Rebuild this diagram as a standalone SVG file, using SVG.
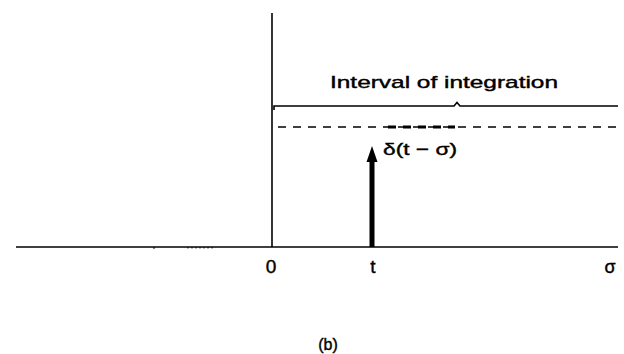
<svg xmlns="http://www.w3.org/2000/svg" width="624" height="354" viewBox="0 0 624 354">
<style>
.ax{stroke:#000;stroke-width:1.6;fill:none}
.lbl{font-family:"Liberation Sans",Arial,sans-serif;fill:#000;stroke:#000;stroke-width:0.4}
</style>
<rect width="624" height="354" fill="#fff"/>
<g id="connectors">
<line class="ax" x1="16" y1="247" x2="618" y2="247"/>
<line class="ax" x1="272" y1="13" x2="272" y2="247"/>
<path class="ax" d="M274,110 V106 H454 L457,102.5 L460,106 H618" stroke-width="1.4"/>
<line x1="278" y1="127" x2="620" y2="127" stroke="#000" stroke-width="1.6" stroke-dasharray="8,7"/>
<line x1="388" y1="127" x2="455" y2="127" stroke="#000" stroke-width="3" stroke-dasharray="8,7"/>
<line x1="154" y1="247" x2="154" y2="249" stroke="#000" stroke-width="1"/>
<path d="M188,247 v1.5 M192,247 v1.5 M196,247 v1.5 M200,247 v1.5 M204,247 v1.5 M208,247 v1.5 M212,247 v1.5" stroke="#000" stroke-width="1"/>
</g>
<g id="impulse">
<rect x="369.5" y="160" width="5" height="87" fill="#000"/>
<polygon points="366.5,162 377.5,162 372,146" fill="#000"/>
</g>
<g id="labels">
<text class="lbl" x="444" y="88" font-size="17" text-anchor="middle" textLength="228" lengthAdjust="spacingAndGlyphs">Interval of integration</text>
<text class="lbl" x="383" y="155" font-size="17" textLength="74" lengthAdjust="spacingAndGlyphs">δ(t − σ)</text>
<text class="lbl" x="271" y="273" font-size="19" text-anchor="middle">0</text>
<text class="lbl" x="373" y="273" font-size="19" text-anchor="middle">t</text>
<text class="lbl" x="610" y="273" font-size="18" text-anchor="middle">σ</text>
<text class="lbl" x="328" y="350" font-size="16" text-anchor="middle">(b)</text>
</g>
</svg>
